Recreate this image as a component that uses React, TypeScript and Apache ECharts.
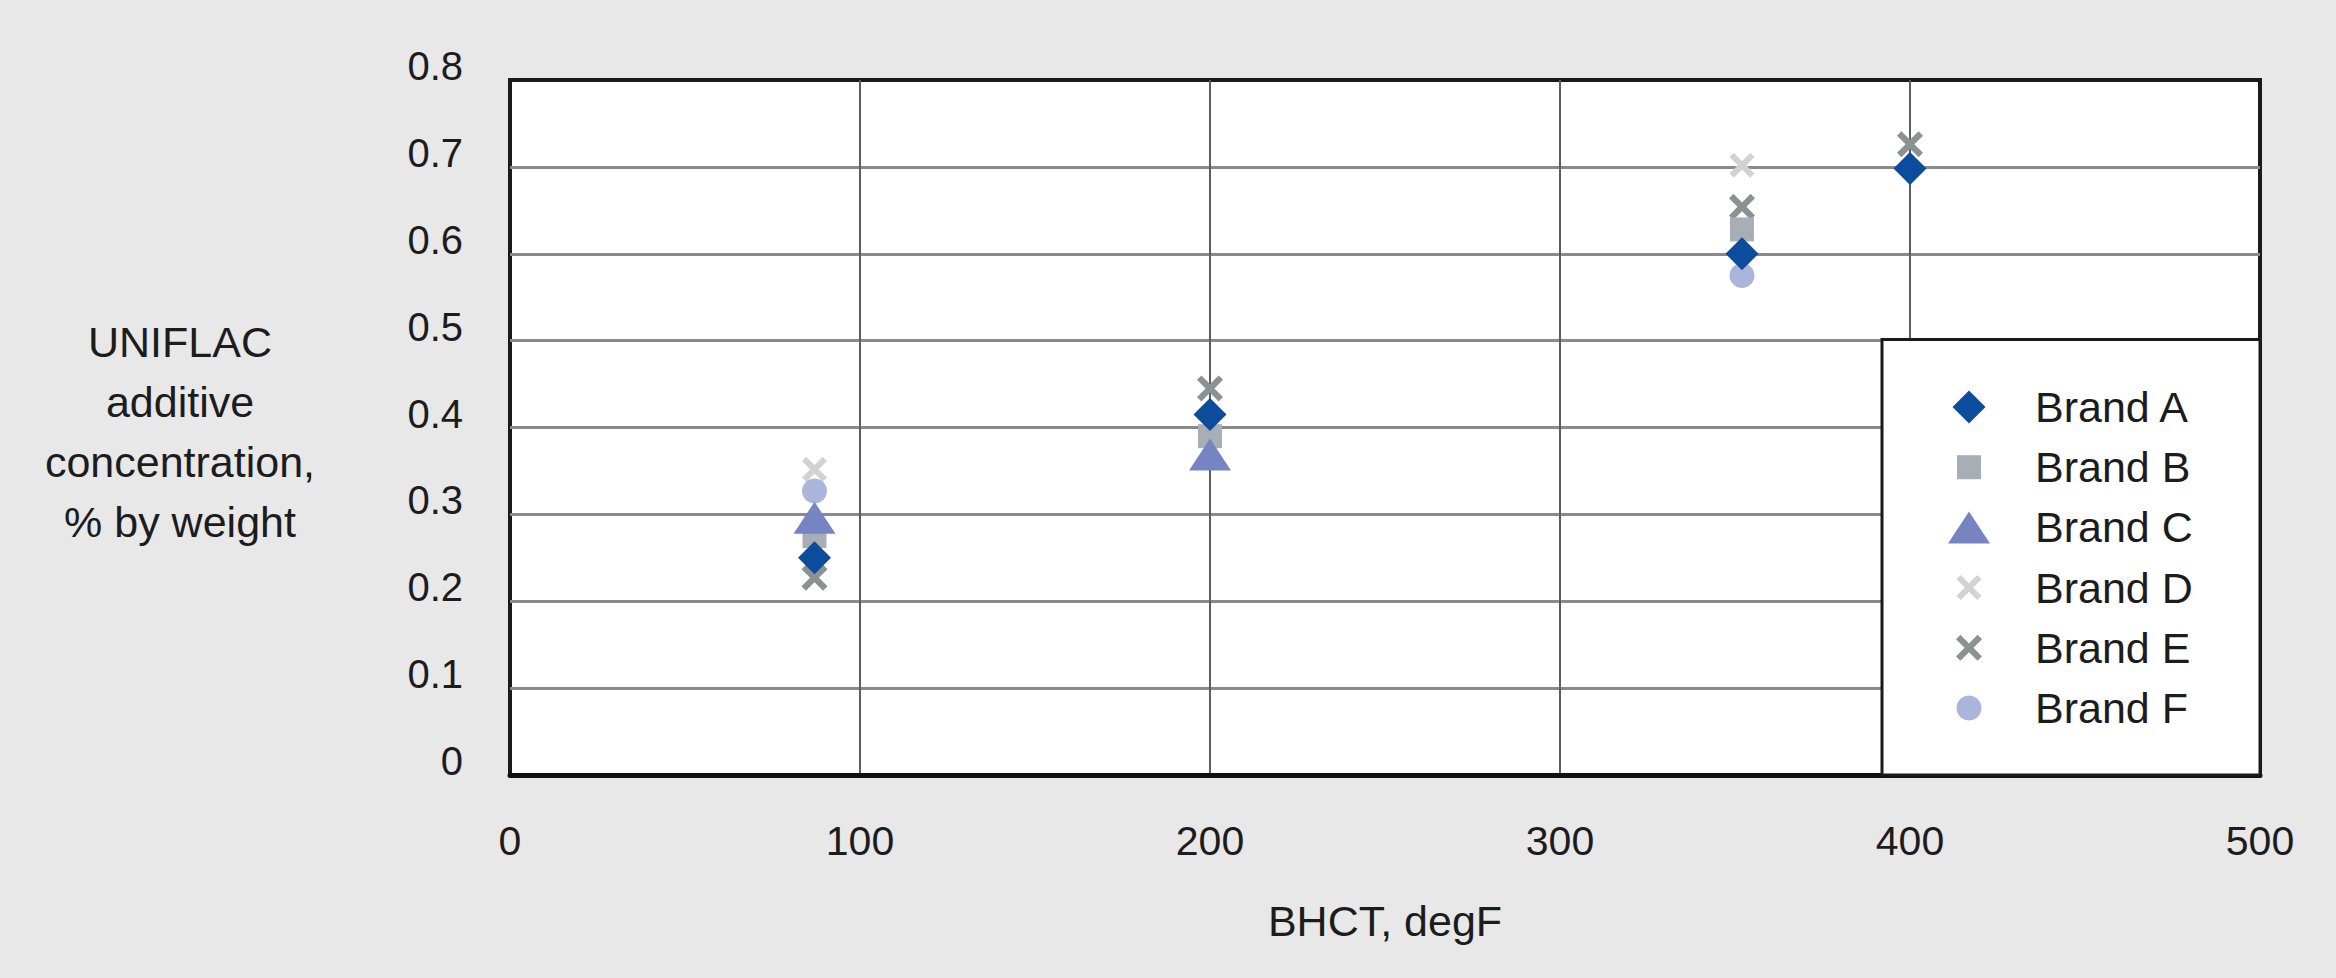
import { useEffect, useRef } from 'react'
import * as echarts from 'echarts'

// BHCT (degF) vs UNIFLAC additive concentration (% by weight)
const brandNames = ['Brand A', 'Brand B', 'Brand C', 'Brand D', 'Brand E', 'Brand F']
const brandA = [[87, 0.25], [200, 0.415], [352, 0.6], [400, 0.698]]
const brandB = [[87, 0.275], [200, 0.39], [352, 0.628]]
const brandC = [[87, 0.296], [200, 0.369]]
const brandD = [[87, 0.352], [352, 0.702]]
const brandE = [[87, 0.227], [200, 0.445], [352, 0.654], [400, 0.726]]
const brandF = [[87, 0.327], [352, 0.575]]

const xRange = [0, 500, 100] // min, max, step
const yRange = [0, 0.8, 0.1]
const xTitle = 'BHCT, degF'
const yTitle = ['UNIFLAC', 'additive', 'concentration,', '% by weight']

const FONT = "'Liberation Sans', Arial, sans-serif"
const INK = '#1c1c1c'
const X_PATH = 'path://M1.7,0L5,3.3L8.3,0L10,1.7L6.7,5L10,8.3L8.3,10L5,6.7L1.7,10L0,8.3L3.3,5L0,1.7Z'

// marker look per brand: symbol, [w, h], colour
const markers: Record<string, { symbol: string; size: number[]; color: string }> = {
  'Brand A': { symbol: 'diamond', size: [33, 33], color: '#0b4c9c' },
  'Brand B': { symbol: 'rect', size: [24, 24], color: '#a7aeb5' },
  'Brand C': { symbol: 'triangle', size: [42, 32], color: '#7685c2' },
  'Brand D': { symbol: X_PATH, size: [25, 25], color: '#d2d2d2' },
  'Brand E': { symbol: X_PATH, size: [26, 26], color: '#8b9292' },
  'Brand F': { symbol: 'circle', size: [25, 25], color: '#a9b5da' },
}
const seriesData: Record<string, number[][]> = {
  'Brand A': brandA,
  'Brand B': brandB,
  'Brand C': brandC,
  'Brand D': brandD,
  'Brand E': brandE,
  'Brand F': brandF,
}
// draw order (later on top)
const drawOrder = ['Brand D', 'Brand E', 'Brand F', 'Brand B', 'Brand C', 'Brand A']

export default function App() {
  const elRef = useRef<HTMLDivElement | null>(null)

  useEffect(() => {
    if (!elRef.current) return
    const chart = echarts.init(elRef.current, undefined, { renderer: 'svg' })

    const legendBox = { x: 1882, y: 339.5, w: 378, h: 435.5 }
    const iconX = 1969
    const textX = 2035
    const legendFont = 43

    // one legend per brand so each icon keeps its own size
    const legends = brandNames.map((name, i) => {
      const [w, h] = markers[name].size
      const textCy = 407 + i * 60.2
      return {
        show: true,
        orient: 'vertical',
        left: iconX - w / 2,
        top: textCy - legendFont / 2,
        padding: 0,
        itemWidth: w,
        itemHeight: h,
        selectedMode: false,
        z: 6,
        data: [{ name, textStyle: { padding: [0, 0, 10, textX - (iconX + w / 2 + 5)] } }],
        textStyle: { fontFamily: FONT, fontSize: legendFont, color: INK },
      }
    })

    chart.setOption({
      animation: false,
      backgroundColor: '#e8e8e8',
      textStyle: { fontFamily: FONT },
      grid: {
        left: 510,
        right: 76,
        top: 80,
        bottom: 203,
        show: true,
        backgroundColor: '#ffffff',
        borderColor: '#1a1a1a',
        borderWidth: 4,
      },
      xAxis: {
        type: 'value',
        min: xRange[0],
        max: xRange[1],
        interval: xRange[2],
        name: xTitle,
        nameLocation: 'middle',
        nameGap: 124,
        nameTextStyle: { fontSize: 43, color: INK, fontFamily: FONT },
        axisLine: { show: true, onZero: false, lineStyle: { color: '#111', width: 5 } },
        axisTick: { show: false },
        axisLabel: { fontSize: 41, color: INK, margin: 45, fontFamily: FONT },
        splitLine: { show: true, showMinLine: false, showMaxLine: false, lineStyle: { color: '#5e5e5e', width: 2 } },
      },
      yAxis: {
        type: 'value',
        min: yRange[0],
        max: yRange[1],
        interval: yRange[2],
        axisLine: { show: false },
        axisTick: { show: false },
        axisLabel: {
          fontSize: 40,
          color: INK,
          margin: 47,
          verticalAlign: 'bottom',
          lineHeight: 28,
          fontFamily: FONT,
          formatter: (v: number) => (v === 0 ? '0' : v.toFixed(1)),
        },
        splitLine: { show: true, showMinLine: false, showMaxLine: false, lineStyle: { color: '#8a8a8a', width: 3 } },
      },
      legend: legends,
      graphic: [
        {
          type: 'rect',
          z: 5,
          shape: { x: legendBox.x, y: legendBox.y, width: legendBox.w, height: legendBox.h },
          style: { fill: '#ffffff', stroke: '#1a1a1a', lineWidth: 3 },
        },
        {
          type: 'text',
          z: 5,
          x: 180,
          y: 432,
          style: {
            text: yTitle.join('\n'),
            fontSize: 43,
            fontFamily: FONT,
            lineHeight: 60,
            align: 'center',
            verticalAlign: 'middle',
            fill: INK,
          },
        },
      ],
      series: drawOrder.map((name) => ({
        name,
        type: 'scatter',
        data: seriesData[name],
        symbol: markers[name].symbol,
        symbolSize: markers[name].size,
        itemStyle: { color: markers[name].color, opacity: 1 },
        emphasis: { disabled: true },
      })),
    })

    return () => {
      chart.dispose()
    }
  }, [])

  return <div ref={elRef} style={{ position: 'fixed', left: 0, top: 0, width: 2336, height: 978 }} />
}
